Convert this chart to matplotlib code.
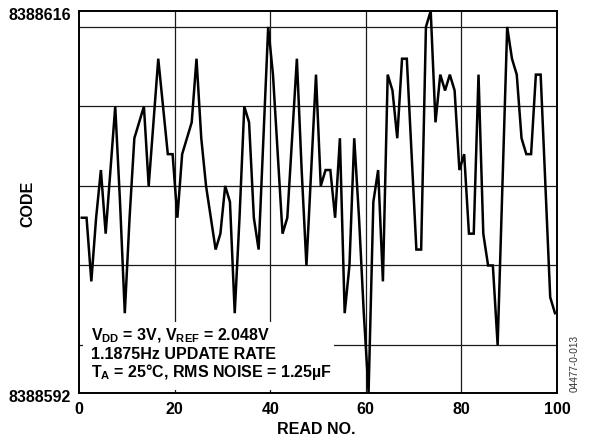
import matplotlib
matplotlib.use("Agg")
import matplotlib.pyplot as plt
import matplotlib.transforms as mtransforms
from matplotlib.patches import Rectangle
import numpy as np

plt.rcParams['font.family'] = ['Liberation Sans', 'DejaVu Sans']
plt.rcParams['font.weight'] = 'bold'
plt.rcParams['mathtext.fontset'] = 'custom'
plt.rcParams['mathtext.rm'] = 'Liberation Sans:bold'
plt.rcParams['mathtext.it'] = 'Liberation Sans:bold'
plt.rcParams['mathtext.bf'] = 'Liberation Sans:bold'

# 100 reads of the ADC output code (offset from 8388592)
read_no = np.arange(1, 101)
code_offset = [
    11, 11, 7, 11, 14, 10, 14, 18, 12, 5,
    11, 16, 17, 18, 13, 17, 21, 18, 15, 15,
    11, 15, 16, 17, 21, 16, 13, 11, 9, 10,
    13, 12, 5, 11, 18, 17, 11, 9, 16, 23,
    20, 15, 10, 11, 16, 21, 14, 8, 14, 20,
    13, 14, 14, 11, 16, 5, 8, 16, 11, 5,
    0, 12, 14, 7, 20, 19, 16, 21, 21, 15,
    9, 9, 23, 24, 17, 20, 19, 20, 19, 14,
    15, 10, 10, 20, 10, 8, 8, 3, 13, 23,
    21, 20, 16, 15, 15, 20, 20, 13, 6, 5,
]
code_base = 8388592
codes = np.array(code_offset) + code_base

x_ticks = [0, 20, 40, 60, 80, 100]
y_grid = [8388595, 8388600, 8388605, 8388610, 8388615]
y_labels = [8388592, 8388616]

fs = 11.5

fig = plt.figure(figsize=(5.9, 4.38), dpi=100)
ax = fig.add_axes([79 / 590, 1 - 392.7 / 438, 478 / 590, 381.7 / 438])

# samples sit about half a read left of the read number in the original
ax.plot(read_no - 0.42, codes, color='black', lw=1.8, zorder=4, solid_joinstyle='miter')

ax.set_xlim(0, 100)
ax.set_ylim(code_base, code_base + 24)

ax.set_xticks(x_ticks)
ax.set_xticklabels([str(t) for t in x_ticks], fontsize=fs, fontweight='bold')
ax.set_yticks(y_labels)
ax.set_yticklabels([str(v) for v in y_labels], fontsize=fs, fontweight='bold')
ax.tick_params(axis='both', length=0)
ax.tick_params(axis='x', pad=7)
ax.tick_params(axis='y', pad=6)
shift = mtransforms.ScaledTranslation(0, -2.5 / 72, fig.dpi_scale_trans)
for lab in ax.get_yticklabels():
    lab.set_transform(lab.get_transform() + shift)

for t in x_ticks[1:-1]:
    ax.axvline(t, color='#1a1a1a', lw=0.9, zorder=1)
for v in y_grid:
    ax.axhline(v, color='#1a1a1a', lw=0.9, zorder=1)

for s in ax.spines.values():
    s.set_linewidth(1.4)
    s.set_color('black')
    s.set_zorder(5)

# white box behind the condition text
ax.add_patch(Rectangle((0.008, 0.007), 0.525, 0.178, transform=ax.transAxes,
                       facecolor='white', edgecolor='none', zorder=2))
ax.text(0.0245, 0.138, r'V$_{DD}$ = 3V, V$_{REF}$ = 2.048V', transform=ax.transAxes,
        fontsize=fs, fontweight='bold', va='baseline', zorder=3)
ax.text(0.0245, 0.088, '1.1875Hz UPDATE RATE', transform=ax.transAxes,
        fontsize=fs, fontweight='bold', va='baseline', zorder=3)
ax.text(0.0245, 0.040, r'T$_{A}$ = 25°C, RMS NOISE = 1.25µF', transform=ax.transAxes,
        fontsize=fs, fontweight='bold', va='baseline', zorder=3)

fig.text(27.5 / 590, 1 - 204 / 438, 'CODE', rotation=90, ha='center', va='center',
         fontsize=fs, fontweight='bold')
fig.text(316 / 590, 1 - 429 / 438, 'READ NO.', ha='center', va='center',
         fontsize=fs, fontweight='bold')
fig.text(575 / 590, 1 - 363.5 / 438, '04477-0-013', rotation=90, ha='center', va='center',
         fontsize=7.2, fontweight='normal', color='#333333')

fig.savefig('out.png', dpi=100)
